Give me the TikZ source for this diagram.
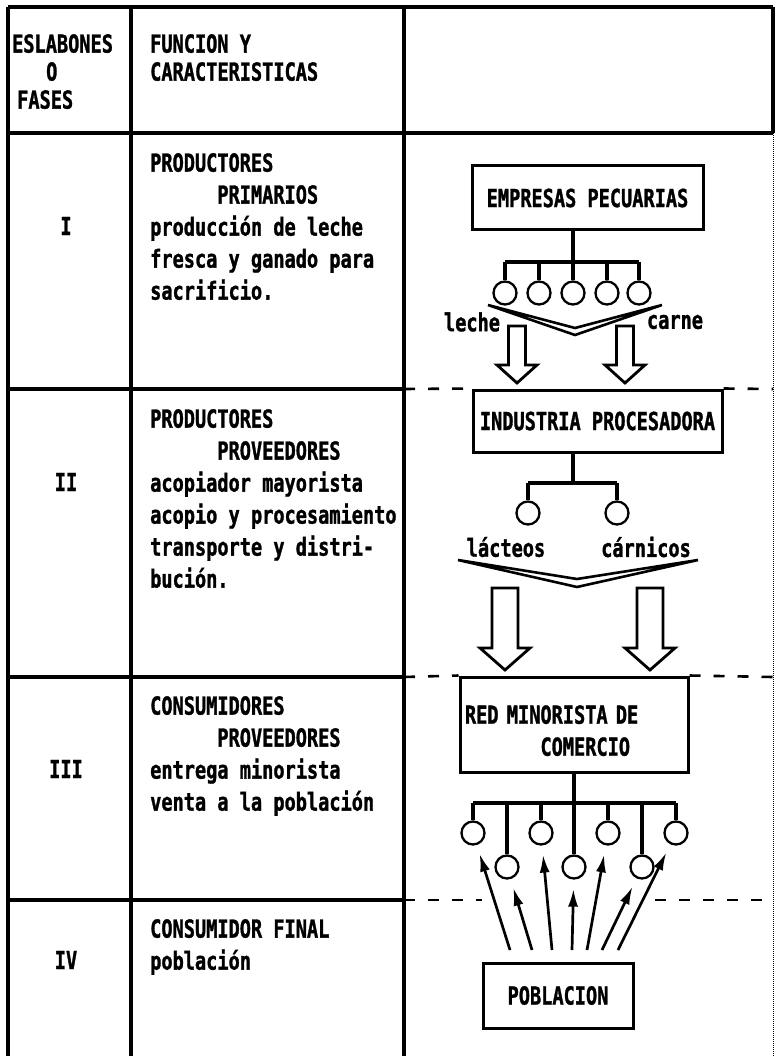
\documentclass[tikz,border=0pt]{standalone}
\usepackage{fontspec}
\setmonofont{DejaVu Sans Mono}[FakeStretch=0.75, FakeBold=1.2]
\usetikzlibrary{arrows.meta}

\newcommand{\typed}{\ttfamily\bfseries\fontsize{24.8pt}{32pt}\selectfont}
\newcommand{\typedhead}{\ttfamily\bfseries\fontsize{24.8pt}{28pt}\selectfont}
% hollow block arrow: x, top, tip, shaft half width, head half width, head length
\newcommand{\fatarrow}[6]{%
  \draw[fat] (#1-#4,#2) -- (#1-#4,#3-#6) -- (#1-#5,#3-#6) -- (#1,#3)
    -- (#1+#5,#3-#6) -- (#1+#4,#3-#6) -- (#1+#4,#2) -- cycle;}

\tikzstyle{block} = [rectangle, draw, line width=3pt, inner sep=0pt,
    text centered, font=\typed]
\tikzstyle{cell} = [anchor=north west, align=left, inner sep=0pt, font=\typed]
\tikzstyle{phase} = [inner sep=0pt, font=\typed]
\tikzstyle{tag} = [inner sep=0pt, font=\typed]
\tikzstyle{ring} = [circle, draw, line width=2.3pt, minimum size=23pt, inner sep=0pt]
\tikzstyle{rule} = [draw, line width=3.2pt]
\tikzstyle{cut} = [draw, line width=2.6pt, dash pattern=on 11pt off 13pt]
\tikzstyle{link} = [draw, line width=3.2pt]
\tikzstyle{chev} = [draw, line width=2.6pt]
\tikzstyle{fat} = [draw, line width=2.8pt]
\tikzstyle{line} = [draw, line width=2.7pt, shorten >=9pt,
    -{Latex[length=18pt,width=10pt]}]

\begin{document}
\begin{tikzpicture}[x=1pt, y=-1pt]

    \fill[white] (0,0) rectangle (775,1056);
    \useasboundingbox (0,0) rectangle (775,1056);

    % table
    \draw[rule] (8,7) -- (773,7);
    \draw[rule] (8,133) -- (773,133);
    \draw[rule] (8,7) -- (8,1056);
    \draw[rule] (131,7) -- (131,1056);
    \draw[rule] (404,7) -- (404,1056);
    \draw[rule] (773,7) -- (773,133);
    \draw[line width=1pt, densely dotted] (773,133) -- (773,1056);
    \foreach \y in {389,677,900}
        \draw[rule] (8,\y) -- (404,\y);

    % header
    \node [cell, font=\typedhead] (eslabones) at (12,34)
        {ESLABONES\\\hspace*{34pt}O\\\hspace*{5pt}FASES};
    \node [cell, font=\typedhead] (funcion) at (150,34)
        {FUNCION Y\\CARACTERISTICAS};

    % phases
    \node [phase] (fase1) at (66,226) {I};
    \node [phase] (fase2) at (66,482) {II};
    \node [phase] (fase3) at (66,769) {III};
    \node [phase] (fase4) at (66,960) {IV};

    \node [cell] (texto1) at (150,153)
        {PRODUCTORES\\\phantom{PRODUC}PRIMARIOS\\producción de leche\\fresca y ganado para\\sacrificio.};
    \node [cell] (texto2) at (150,409)
        {PRODUCTORES\\\phantom{PRODUC}PROVEEDORES\\acopiador mayorista\\acopio y procesamiento\\transporte y distri-\\bución.};
    \node [cell] (texto3) at (150,696)
        {CONSUMIDORES\\\phantom{CONSUM}PROVEEDORES\\entrega minorista\\venta a la población};
    \node [cell] (texto4) at (150,919)
        {CONSUMIDOR FINAL\\población};

    % fase I
    \node [block, minimum width=231pt, minimum height=64pt] (emp) at (587.5,198) {EMPRESAS PECUARIAS};
    \coordinate (busI) at (573,262);
    \foreach \i/\x in {1/505,2/539,3/573,4/607,5/639}
        \node [ring] (c\i) at (\x,293) {};
    \path [link] (emp.south -| busI) -- (busI);
    \path [link] (c1 |- busI) -- (c5 |- busI);
    \foreach \i in {1,...,5}
        \path [link] (c\i) -- (c\i |- busI);
    \path [chev] (488,305) -- (575,328) -- (662,305) -- (575,335) -- cycle;
    \node [tag] (leche) at (472,322) {leche};
    \node [tag] (carne) at (675,322) {carne};
    \fatarrow{517}{326}{383}{8.5}{20}{18}
    \fatarrow{625}{326}{383}{8.5}{20}{18}

    % fase II
    \node [block, minimum width=249pt, minimum height=62pt] (ind) at (597.5,421) {INDUSTRIA PROCESADORA};
    \path [cut] (404,389) -- (ind.north west);
    \path [cut] (ind.north east) -- (773,389);
    \coordinate (busII) at (573,483);
    \node [ring] (d1) at (528,513) {};
    \node [ring] (d2) at (617,513) {};
    \path [link] (ind.south -| busII) -- (busII);
    \path [link] (d1 |- busII) -- (d2 |- busII);
    \foreach \i in {1,2}
        \path [link] (d\i) -- (d\i |- busII);
    \node [tag] (lacteos) at (506,547) {lácteos};
    \node [tag] (carnicos) at (646,547) {cárnicos};
    \path [chev] (458,560) -- (577,579) -- (698,560) -- (577,587) -- cycle;
    \fatarrow{505}{588}{670}{13}{25}{22}
    \fatarrow{650}{588}{670}{13}{25}{22}

    % fase III
    \node [block, minimum width=228pt, minimum height=95pt, text width=218pt,
        align=left, text depth=20pt] (red) at (574,724.5)
        {RED MINORISTA DE\\\phantom{RED MIN}COMERCIO};
    \path [cut] (404,677) -- (red.north west);
    \path [cut] (red.north east) -- (773,677);
    \coordinate (busIII) at (574,803);
    \foreach \i/\x/\y in {1/473/833,2/507/867,3/541/833,4/574/867,5/608/833,6/642/867,7/676/833}
        \node [ring] (r\i) at (\x,\y) {};
    \path [link] (red) -- (busIII);
    \path [link] (r1 |- busIII) -- (r7 |- busIII);
    \foreach \i in {1,...,7}
        \path [link] (r\i) -- (r\i |- busIII);

    % fase IV
    \path [cut] (404,900) -- (482,900);
    \path [cut] (655,900) -- (773,900);
    \node [block, minimum width=150pt, minimum height=65pt] (pob) at (558,995.5) {POBLACION};
    \foreach \i/\x in {1/510,2/532,3/552,4/572,5/587,6/602,7/618}
        \coordinate (t\i) at (\x,950);
    \foreach \i in {1,...,7}
        \path [line] (t\i) -- (r\i);

\end{tikzpicture}
\end{document}
